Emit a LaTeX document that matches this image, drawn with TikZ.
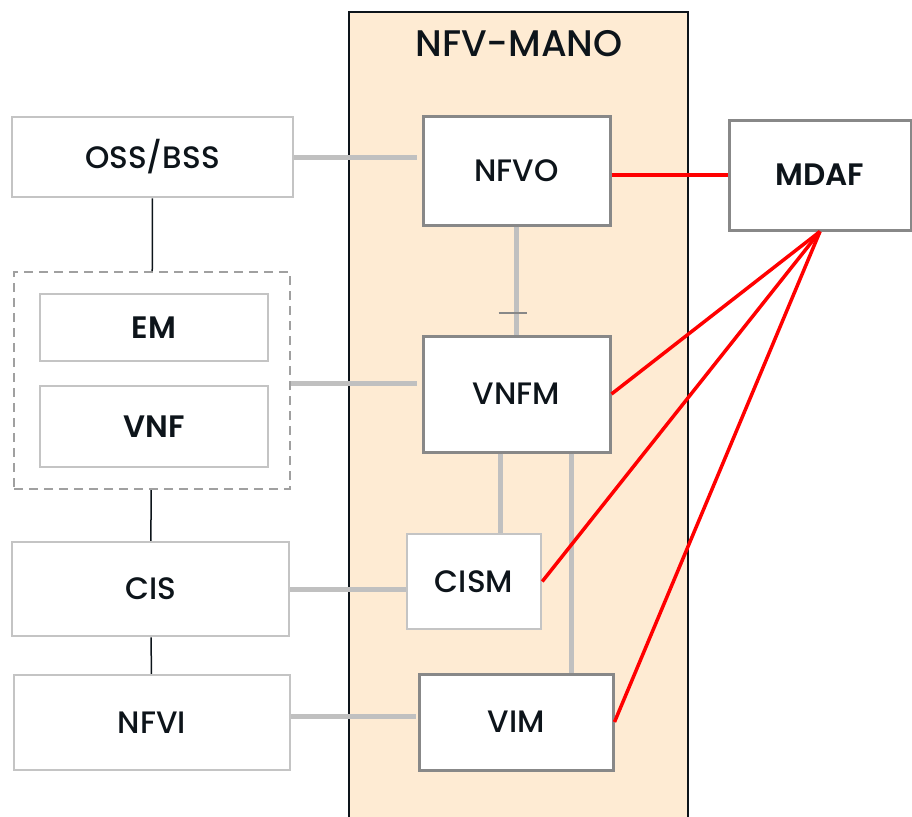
\documentclass[tikz,border=0pt]{standalone}
\usepackage{fontspec}
\setmainfont{Poppins}[UprightFont={* Medium}, BoldFont={* SemiBold}]
\usetikzlibrary{positioning, calc}

\definecolor{manofill}{RGB}{254,235,211}
\definecolor{ink}{RGB}{13,20,26}
\definecolor{softgray}{RGB}{196,196,196}
\definecolor{midgray}{RGB}{136,136,136}
\definecolor{linkgray}{RGB}{192,192,192}

\begin{document}
\begin{tikzpicture}[
    x=1pt, y=-1pt,
    box/.style={draw=softgray, line width=2.5pt, fill=white, inner sep=0pt,
                text=ink, font=\fontsize{31}{36}\selectfont},
    core/.style={box, draw=midgray, line width=3pt},
    group/.style={draw=midgray!80, line width=2pt, dash pattern=on 9pt off 6pt},
    link/.style={draw=linkgray, line width=5pt},
    tie/.style={draw=ink, line width=1.5pt},
    feed/.style={draw=red, line width=3.5pt}]

  \useasboundingbox (0,0) rectangle (912,816);

  % === NFV-MANO block ===
  \draw[fill=manofill, draw=ink, line width=1.5pt] (349,12) rectangle (688,822);
  \node[text=ink, font=\fontsize{37}{42}\selectfont] (mano) at (519,44) {NFV-MANO};

  % === Left column ===
  \node[box, minimum width=281, minimum height=80] (oss) at (152.5,157) {OSS/BSS};
  \node[group, minimum width=276, minimum height=217] (vnfgrp) at (152,380.5) {};
  \node[box, minimum width=228, minimum height=67, font=\fontsize{31}{36}\selectfont\bfseries] (em) at (154,327.5) {EM};
  \node[box, minimum width=228, minimum height=81, font=\fontsize{31}{36}\selectfont\bfseries] (vnf) at (154,426.5) {VNF};
  \node[box, minimum width=277, minimum height=94] (cis) at (150.5,589) {CIS};
  \node[box, minimum width=276, minimum height=95] (nfvi) at (152,722.5) {NFVI};

  % === MANO functional blocks ===
  \node[core, minimum width=187, minimum height=109] (nfvo) at (516.5,170.5) {NFVO};
  \node[core, minimum width=187, minimum height=116] (vnfm) at (516.5,394) {VNFM};
  \node[box, minimum width=134, minimum height=95] (cism) at (474,581.5) {CISM};
  \node[core, minimum width=194, minimum height=96] (vim) at (516,722) {VIM};

  % analytics function on the right
  \node[core, minimum width=182, minimum height=110, font=\fontsize{31}{36}\selectfont\bfseries] (mdaf) at (820,175) {MDAF};

  % === Left column ties ===
  \draw[tie] (oss) -- (vnfgrp);
  \draw[tie] (vnfgrp) -- (cis);
  \draw[tie] (cis) -- (nfvi);

  % === Reference points into MANO ===
  \draw[link, shorten >=5pt] (oss.east) -- (oss.east -| nfvo.west);
  \draw[link, shorten >=5pt] ([yshift=-3pt]vnfgrp.east) -- ([yshift=-3pt]vnfgrp.east -| vnfm.west);
  \draw[link] (cis.east) -- (cis.east -| cism.west);
  \draw[link, shorten >=2pt] ([yshift=6pt]nfvi.east) -- ([yshift=6pt]nfvi.east -| vim.west);

  % === Inside MANO ===
  \draw[link] (nfvo) -- (vnfm);
  \draw[midgray, line width=2pt] ([xshift=-18pt, yshift=22pt]vnfm.north) -- ([xshift=10pt, yshift=22pt]vnfm.north);
  \draw[link] ([xshift=-16.5pt]vnfm.south) -- ([xshift=-16.5pt]vnfm.south |- cism.north);
  \draw[link] ([xshift=54.5pt]vnfm.south) -- ([xshift=54.5pt]vnfm.south |- vim.north);

  % === MDAF feeds ===
  \draw[feed] (mdaf.west -| nfvo.east) -- (mdaf.west);
  \draw[feed] (mdaf.south) -- (vnfm.east);
  \draw[feed] (mdaf.south) -- (cism.east);
  \draw[feed] (mdaf.south) -- (vim.east);

\end{tikzpicture}
\end{document}
